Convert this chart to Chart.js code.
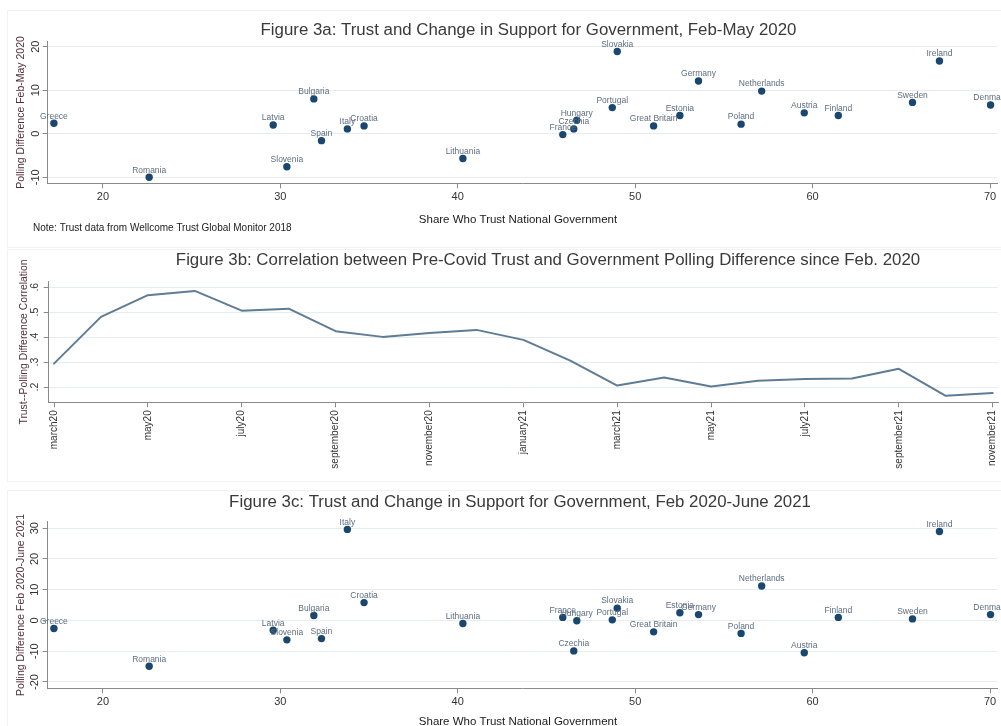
<!DOCTYPE html>
<html>
<head>
<meta charset="utf-8">
<script src="https://cdn.jsdelivr.net/npm/chart.js@4.4.1/dist/chart.umd.min.js"></script>
<style>
  html, body { margin: 0; padding: 0; background: #ffffff; overflow: hidden; }
  #wrap { position: relative; width: 1001px; height: 726px; }
  canvas { position: absolute; left: 0; }
</style>
</head>
<body>
<div id="wrap">
  <canvas id="figA" width="1001" height="248" style="top:0px"></canvas>
  <canvas id="figB" width="1001" height="241" style="top:248px"></canvas>
  <canvas id="figC" width="1001" height="237" style="top:489px"></canvas>
</div>
<script>
// ---- data ----
const countries = ['Greece', 'Romania', 'Latvia', 'Slovenia', 'Bulgaria', 'Spain', 'Italy', 'Croatia',
  'Lithuania', 'France', 'Czechia', 'Hungary', 'Portugal', 'Slovakia', 'Great Britain', 'Estonia',
  'Germany', 'Poland', 'Netherlands', 'Austria', 'Finland', 'Sweden', 'Ireland', 'Denmark'];

// share who trust national government (%)
const trust = [17.24, 22.61, 29.60, 30.37, 31.89, 32.32, 33.78, 34.72,
  40.29, 45.92, 46.54, 46.71, 48.71, 48.99, 51.04, 52.52,
  53.57, 55.97, 57.13, 59.53, 61.45, 65.63, 67.15, 70.03];

// polling difference Feb-May 2020
const pollingFebMay2020 = [2.4, -10.0, 2.0, -7.6, 8.0, -1.6, 1.1, 1.8,
  -5.7, -0.2, 1.1, 3.1, 6.0, 18.9, 1.8, 4.2,
  12.1, 2.2, 9.8, 4.8, 4.2, 7.2, 16.7, 6.6];

// polling difference Feb 2020-June 2021
const pollingFeb2020Jun2021 = [-2.6, -14.9, -3.2, -6.3, 1.6, -5.9, 29.6, 5.8,
  -1.0, 1.0, -9.9, -0.1, 0.2, 4.0, -3.7, 2.5,
  1.9, -4.2, 11.2, -10.5, 1.0, 0.5, 28.9, 1.9];

const months = ['march20', 'april20', 'may20', 'june20', 'july20', 'august20', 'september20',
  'october20', 'november20', 'december20', 'january21', 'february21', 'march21', 'april21',
  'may21', 'june21', 'july21', 'august21', 'september21', 'october21', 'november21'];

// trust--polling difference correlation by month
const correlation = [0.294, 0.481, 0.568, 0.585, 0.506, 0.514, 0.424,
  0.401, 0.417, 0.429, 0.389, 0.306, 0.206, 0.238,
  0.202, 0.225, 0.232, 0.234, 0.273, 0.165, 0.176];

const monthTickIndex = [0, 2, 4, 6, 8, 10, 12, 14, 16, 18, 20];
const trustTicks = [20, 30, 40, 50, 60, 70];
const yTicksA = [-10, 0, 10, 20];
const yTicksB = [0.2, 0.3, 0.4, 0.5, 0.6];
const yTicksC = [-20, -10, 0, 10, 20, 30];

// ---- styling ----
const FONT = '"Liberation Sans", Arial, sans-serif';
const AXIS = '#8a8a8a';
const GRID = '#e5edf0';
const DOT = '#1a476f';
const LINE = '#5f7c95';
const TEXT = '#333333';
const YTITLE = '#52303a';

Chart.defaults.font.family = FONT;

// country names centred above each marker
const countryLabels = {
  id: 'countryLabels',
  afterDatasetsDraw(chart) {
    const ctx = chart.ctx;
    const meta = chart.getDatasetMeta(0);
    ctx.save();
    ctx.font = '8.5px ' + FONT;
    ctx.fillStyle = '#5e6e80';
    ctx.textAlign = 'center';
    ctx.textBaseline = 'middle';
    meta.data.forEach((el, i) => ctx.fillText(countries[i], el.x, el.y - 7));
    ctx.restore();
  }
};

// titles, rotated y tick labels, axis titles and panel frame
function panelText(cfg) {
  return {
    id: 'panelText',
    afterDraw(chart) {
      const ctx = chart.ctx;
      const area = chart.chartArea;
      const ys = chart.scales.y;
      ctx.save();

      // faint frame around the panel
      ctx.strokeStyle = '#f2f2f2';
      ctx.lineWidth = 1;
      ctx.strokeRect(7.5, cfg.frameTop + 0.5, 1001, cfg.frameBottom - cfg.frameTop);

      // title
      ctx.fillStyle = '#3a3a3a';
      ctx.font = cfg.titleSize + 'px ' + FONT;
      ctx.textAlign = 'center';
      ctx.textBaseline = 'middle';
      ctx.fillText(cfg.title, cfg.titleX, cfg.titleY);

      // y tick labels (vertical)
      ctx.fillStyle = TEXT;
      ctx.font = cfg.yTickSize + 'px ' + FONT;
      cfg.yTicks.forEach(v => {
        const py = ys.getPixelForValue(v);
        ctx.save();
        ctx.translate(cfg.yTickX, py);
        ctx.rotate(-Math.PI / 2);
        ctx.fillText(cfg.yFormat(v), 0, 0);
        ctx.restore();
      });

      // y axis title
      ctx.save();
      ctx.fillStyle = YTITLE;
      ctx.font = cfg.yTitleSize + 'px ' + FONT;
      ctx.translate(cfg.yTitleX, (area.top + area.bottom) / 2);
      ctx.rotate(-Math.PI / 2);
      ctx.fillText(cfg.yTitle, 0, 0);
      ctx.restore();

      // x axis title
      if (cfg.xTitle) {
        ctx.fillStyle = '#1a1a1a';
        ctx.font = '11.5px ' + FONT;
        ctx.fillText(cfg.xTitle, cfg.xTitleX, cfg.xTitleY);
      }

      // note
      if (cfg.note) {
        ctx.fillStyle = '#222222';
        ctx.font = '10px ' + FONT;
        ctx.textAlign = 'left';
        ctx.fillText(cfg.note, cfg.noteX, cfg.noteY);
      }
      ctx.restore();
    }
  };
}

function fixedX(height) {
  return s => { s.height = height; s.paddingLeft = 0; s.paddingRight = 0; };
}
function fixedY(width) {
  return s => { s.width = width; s.paddingTop = 0; s.paddingBottom = 0; };
}
function setTicks(values) {
  return s => { s.ticks = values.map(v => ({ value: v })); };
}

function scatterPanel(id, yValues, yTicks, yMin, yMax, padding, texts) {
  return new Chart(document.getElementById(id), {
    type: 'scatter',
    data: {
      datasets: [{
        data: trust.map((t, i) => ({ x: t, y: yValues[i] })),
        backgroundColor: DOT,
        borderColor: DOT,
        borderWidth: 0,
        pointRadius: 3.7,
        pointHoverRadius: 3.7
      }]
    },
    options: {
      responsive: false,
      animation: false,
      events: [],
      layout: { padding },
      plugins: { legend: { display: false }, tooltip: { enabled: false } },
      scales: {
        x: {
          type: 'linear', min: 16.89, max: 70.41,
          afterBuildTicks: setTicks(trustTicks),
          afterFit: fixedX(30),
          grid: { drawOnChartArea: false, tickLength: 5, tickColor: AXIS },
          border: { color: AXIS, width: 1 },
          ticks: { color: TEXT, font: { size: 11 }, padding: 2, maxRotation: 0, autoSkip: false }
        },
        y: {
          type: 'linear', min: yMin, max: yMax,
          afterBuildTicks: setTicks(yTicks),
          afterFit: fixedY(47.7),
          grid: { color: GRID, tickLength: 5, tickColor: AXIS },
          border: { color: AXIS, width: 1 },
          ticks: { display: false }
        }
      }
    },
    plugins: [countryLabels, panelText(texts)]
  });
}

const intFmt = v => String(v);

// Figure 3a
scatterPanel('figA', pollingFebMay2020, yTicksA, -11.4, 21.15,
  { left: 0, right: 2, top: 41.7, bottom: 248 - 183.3 - 30 },
  {
    title: 'Figure 3a: Trust and Change in Support for Government, Feb-May 2020',
    titleX: 528.5, titleY: 30, titleSize: 16.85,
    yTicks: yTicksA, yTickX: 36, yTickSize: 11, yFormat: intFmt,
    yTitle: 'Polling Difference Feb-May 2020', yTitleX: 21.5, yTitleSize: 10.5,
    xTitle: 'Share Who Trust National Government', xTitleX: 518, xTitleY: 219.5,
    note: 'Note: Trust data from Wellcome Trust Global Monitor 2018', noteX: 33, noteY: 228.5,
    frameTop: 10, frameBottom: 247
  });

// Figure 3b
new Chart(document.getElementById('figB'), {
  type: 'line',
  data: {
    datasets: [{
      data: correlation.map((v, i) => ({ x: i, y: v })),
      borderColor: LINE,
      borderWidth: 2,
      borderJoinStyle: 'round',
      borderCapStyle: 'round',
      pointRadius: 0,
      tension: 0,
      fill: false
    }]
  },
  options: {
    responsive: false,
    animation: false,
    events: [],
    layout: { padding: { left: 0, right: 3, top: 33.7, bottom: 241 - 154.3 - 70 } },
    plugins: { legend: { display: false }, tooltip: { enabled: false } },
    scales: {
      x: {
        type: 'linear', min: -0.113, max: 20.113,
        afterBuildTicks: setTicks(monthTickIndex),
        afterFit: fixedX(70),
        grid: { drawOnChartArea: false, tickLength: 5, tickColor: AXIS },
        border: { color: AXIS, width: 1 },
        ticks: {
          color: TEXT, font: { size: 10 }, padding: 3, autoSkip: false,
          minRotation: 90, maxRotation: 90,
          callback: v => months[v]
        }
      },
      y: {
        type: 'linear', min: 0.139, max: 0.622,
        afterBuildTicks: setTicks(yTicksB),
        afterFit: fixedY(48.7),
        grid: { color: GRID, tickLength: 5, tickColor: AXIS },
        border: { color: AXIS, width: 1 },
        ticks: { display: false }
      }
    }
  },
  plugins: [panelText({
    title: 'Figure 3b: Correlation between Pre-Covid Trust and Government Polling Difference since Feb. 2020',
    titleX: 548, titleY: 12, titleSize: 16.85,
    yTicks: yTicksB, yTickX: 35, yTickSize: 10.5, yFormat: v => v.toFixed(1).replace(/^0/, ''),
    yTitle: 'Trust--Polling Difference Correlation', yTitleX: 24, yTitleSize: 10.4,
    frameTop: 1, frameBottom: 233
  })]
});

// Figure 3c
scatterPanel('figC', pollingFeb2020Jun2021, yTicksC, -22.05, 32.1,
  { left: 0, right: 2, top: 32.7, bottom: 237 - 199.3 - 30 },
  {
    title: 'Figure 3c: Trust and Change in Support for Government, Feb 2020-June 2021',
    titleX: 520, titleY: 13.7, titleSize: 16.85,
    yTicks: yTicksC, yTickX: 35, yTickSize: 11, yFormat: intFmt,
    yTitle: 'Polling Difference Feb 2020-June 2021', yTitleX: 21, yTitleSize: 10.5,
    xTitle: 'Share Who Trust National Government', xTitleX: 518, xTitleY: 232.7,
    frameTop: 1, frameBottom: 260
  });
</script>
</body>
</html>
